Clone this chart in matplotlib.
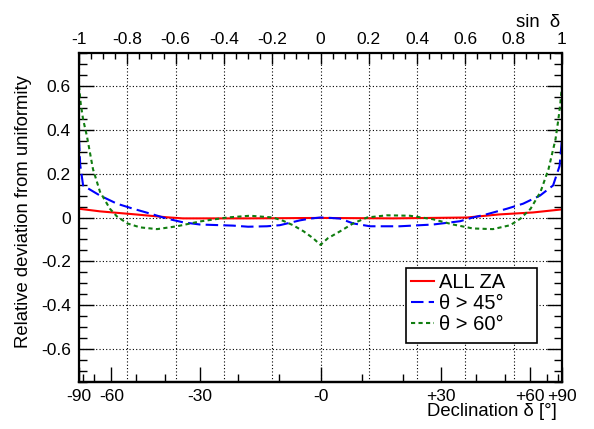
import matplotlib
matplotlib.use("Agg")
import matplotlib.pyplot as plt
import numpy as np
from matplotlib.ticker import MultipleLocator, FuncFormatter
from matplotlib.patches import Rectangle

plt.rcParams["font.family"] = ["Liberation Sans", "DejaVu Sans"]

# sin(declination) positions and relative deviation
sin_all = [-1.0, -0.913, -0.776, -0.636, -0.57, -0.3, 0.0, 0.3, 0.607, 0.74, 0.88, 1.0]
dev_all = [0.04, 0.028, 0.015, 0.001, -0.004, -0.004, -0.002, -0.004, 0.0, 0.014, 0.023, 0.037]

sin_45 = [-1.0, -0.995, -0.983, -0.913, -0.843, -0.776, -0.706, -0.636, -0.569, -0.499,
          -0.362, -0.3, -0.222, -0.168, -0.085, -0.043, 0.0, 0.043, 0.081, 0.135, 0.205,
          0.329, 0.466, 0.578, 0.631, 0.689, 0.772, 0.839, 0.909, 0.963, 0.99, 1.0]
dev_45 = [0.36, 0.24, 0.146, 0.10, 0.063, 0.04, 0.018, -0.005, -0.022, -0.032,
          -0.037, -0.042, -0.04, -0.035, -0.013, -0.005, 0.0, -0.002, -0.005, -0.027, -0.04,
          -0.04, -0.032, -0.017, 0.0, 0.015, 0.04, 0.063, 0.10, 0.146, 0.235, 0.36]

sin_60 = [-1.0, -0.993, -0.983, -0.967, -0.942, -0.913, -0.872, -0.843, -0.8, -0.747,
          -0.677, -0.594, -0.499, -0.387, -0.292, -0.197, -0.155, -0.114, -0.07, -0.03, 0.0,
          0.03, 0.081, 0.135, 0.193, 0.275, 0.37, 0.466, 0.549, 0.631, 0.714, 0.786,
          0.828, 0.87, 0.911, 0.944, 0.973, 0.985, 0.993, 1.0]
dev_60 = [0.6, 0.52, 0.447, 0.37, 0.22, 0.117, 0.04, 0.005, -0.027, -0.045,
          -0.053, -0.04, -0.018, 0.0, 0.008, 0.0, -0.015, -0.035, -0.063, -0.095, -0.125,
          -0.095, -0.063, -0.027, 0.0, 0.01, 0.008, -0.008, -0.032, -0.05, -0.053, -0.035,
          -0.005, 0.04, 0.117, 0.22, 0.356, 0.447, 0.52, 0.6]

dec_major = [-90, -60, -30, 0, 30, 60, 90]
dec_labels = ["-90", "-60", "-30", "-0", "+30", "+60", "+90"]
dec_minor = [-80, -70, -50, -40, -20, -10, 10, 20, 40, 50, 70, 80]

fig = plt.figure(figsize=(5.94, 4.29), dpi=100)
ax = fig.add_axes([79/594, 1-382/429, 483/594, 329/429])

ax.plot(sin_all, dev_all, color="#ff0000", lw=1.5, label="ALL ZA")
ax.plot(sin_45, dev_45, color="#0000ff", lw=1.5, dashes=(6, 2.5), label="θ > 45°")
ax.plot(sin_60, dev_60, color="#107d10", lw=1.5, dashes=(2, 1.6), label="θ > 60°")

ax.set_xlim(-1, 1)
ax.set_ylim(-0.75, 0.75)

fmt = FuncFormatter(lambda v, p: "%g" % (round(v, 2) + 0.0))

# top axis: sin(delta)
ax.xaxis.tick_top()
ax.xaxis.set_major_locator(MultipleLocator(0.2))
ax.xaxis.set_minor_locator(MultipleLocator(0.05))
ax.xaxis.set_major_formatter(fmt)
ax.yaxis.set_minor_locator(MultipleLocator(0.05))
ax.set_yticks([-0.6, -0.4, -0.2, 0, 0.2, 0.4, 0.6])
ax.yaxis.set_major_formatter(fmt)
ax.tick_params(axis="x", which="major", direction="in", length=8, width=1, labelsize=12.5, pad=4.5)
ax.tick_params(axis="x", which="minor", direction="in", length=4, width=1)
ax.tick_params(axis="y", which="major", direction="in", length=11, width=1, labelsize=12.5,
               pad=5.8, right=True)
ax.tick_params(axis="y", which="minor", direction="in", length=6, width=1, right=True)

ax.grid(True, which="major", color="black", lw=0.8, ls=(0, (1, 2)))

for sp in ax.spines.values():
    sp.set_linewidth(1.6)

# bottom axis: declination in degrees at sin(delta)
sec = ax.secondary_xaxis("bottom", functions=(lambda x: x, lambda x: x))
sec.set_xticks(np.sin(np.radians(dec_major)))
sec.set_xticklabels(dec_labels)
sec.set_xticks(np.sin(np.radians(dec_minor)), minor=True)
sec.tick_params(axis="x", which="major", direction="in", length=11, width=1, labelsize=12.5, pad=5)
sec.tick_params(axis="x", which="minor", direction="in", length=6, width=1)
sec.spines["bottom"].set_linewidth(1.6)

fig.text(24/594, 217/429, "Relative deviation from uniformity", rotation=90,
         ha="center", va="center", fontsize=13.3)
fig.text(557/594, 1-416/429, "Declination δ [°]", ha="right", va="baseline", fontsize=13.3)
fig.text(560/594, 1-27/429, "sin  δ", ha="right", va="baseline", fontsize=13.3)

# legend box (fixed size, as in the reference)
ax.add_patch(Rectangle((0.676, 0.1176), 0.272, 0.228, transform=ax.transAxes,
                       facecolor="white", edgecolor="black", lw=1.2, zorder=5))
leg = ax.legend(loc="upper left", bbox_to_anchor=(0.676, 0.3456), fontsize=14.5,
                frameon=False, handlelength=1.15, handletextpad=0.25, labelspacing=0.1,
                borderpad=0.25, borderaxespad=0)
leg.set_zorder(6)

fig.savefig("out.png", dpi=100)
